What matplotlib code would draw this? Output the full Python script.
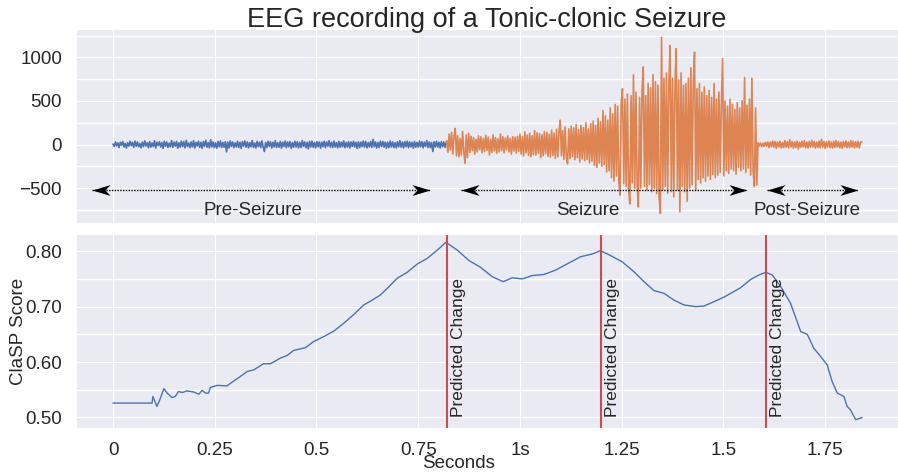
import numpy as np
import seaborn as sns
from matplotlib import pyplot as plt
from matplotlib.path import Path

sns.set_style('darkgrid')
sns.set_palette('deep')
plt.rcParams['font.family'] = ['Liberation Sans', 'DejaVu Sans']

# EEG amplitude, one value every 0.003 s
eeg_pre = [5, -22, 30, -15, 18, -35, 26, -8, 34, -28,
           14, -40, 22, -18, 38, -12, 25, -33, 40, -20,
           30, -26, 12, -38, 28, -24, 42, -16, 20, -36,
           35, -30, 18, -22, 44, -40, 26, -10, 32, -28,
           22, -45, 38, -20, 30, -34, 16, -26, 46, -32,
           28, -18, 36, -42, 20, -30, 40, -24, 34, -38,
           48, -22, 18, -36, 30, -28, 44, -40, 24, -16,
           38, -32, 26, -44, 34, -20, 50, -30, 22, -38,
           55, -28, 30, -36, 20, -42, 36, -26, 40, -34,
           24, -30, 32, -85, 28, -40, 42, -22, 30, -36,
           20, -28, 38, -34, 26, -44, 34, -18, 40, -30,
           30, -38, 22, -26, 46, -32, 18, -40, 36, -24,
           28, -34, 42, -30, -80, 24, -36, 38, -20, 32,
           -40, 26, -28, 44, -34, 20, -30, 36, -42, 28,
           -22, 40, -36, 30, -26, 34, -44, 22, -30, 38,
           -28, 32, -38, 24, -34, 46, -20, 30, -36, 26,
           -50, 36, -28, 40, -32, 22, -38, 34, -26, 30,
           -42, 28, -24, 38, -36, 30, -20, 44, -30, 26,
           -34, 40, -28, 22, -38, 36, -32, 28, -26, 42,
           -36, 24, -30, 34, -40, 30, -22, 38, -28, 26,
           -44, 32, -36, 28, -24, 40, -30, 36, -38, 22,
           -28, 34, -32, 60, -26, 30, -40, 24, -34, 38,
           -22, 36, -30, 28, -42, 26, -36, 40, -28, 30,
           -34, 22, -38, 32, -26, 44, -30, 28, -40, 34,
           -24, 38, -36, 30, -28, 26, -42, 36, -32, 24,
           -30, 40, -26, 34, -38, 28, -22, 46, -34, 30,
           -36, 24, -80, 32, -28, 38, -30, 26, -40, 34,
           -26, 30, -32]
eeg_seizure = [40, -90, 120, -60, 140, -110, 90, 185, -130, 100,
               -140, 70, -120, 150, -80, -215, 110, -150, 130, -90,
               95, -70, 80, -110, 60, -85, 100, -60, 90, -95,
               70, -80, 105, -65, 85, -120, 60, -90, 110, -75,
               80, -100, 65, -85, 120, -70, 90, -95, 75, -60,
               100, -85, 70, -110, 90, -75, 85, -100, 95, -80,
               120, -110, 90, -130, 145, -95, 110, -125, 130, -140,
               100, -115, 160, -120, 135, -100, 125, -150, 110, -130,
               150, -105, 140, -135, 120, -145, 165, -125, 130, -160,
               175, -140, 150, 280, -130, 160, -170, 200, -150, -220,
               180, -160, 210, -140, 190, -175, 230, -150, 170, -200,
               220, -165, 195, -185, 250, -170, 180, -210, 240, -190,
               270, -240, 220, -260, 300, -210, 260, -250, 390, -230,
               330, -313, 280, -300, 420, -380, 350, -420, 460, -360,
               440, -430, -580, 500, 640, -450, 520, -480, 580, -520,
               -680, 560, -440, 800, -500, 600, -470, -715, 540, -500,
               620, 890, -480, 560, -520, 700, -460, 650, -540, 800,
               -500, 720, -560, 680, -600, -790, 1230, -520, 760, -480,
               820, -560, 700, 1135, -540, 760, -600, 680, 1100, -520,
               740, -770, 820, -480, 680, -540, 700, -650, 760, -500,
               880, -460, 720, 1060, -520, 640, -400, 700, -440, 600,
               -380, 660, -420, 560, -360, 620, -400, 540, -340, 700,
               -380, 520, -350, 600, -320, 480, 985, -360, 500, -300,
               440, -330, 520, -280, 460, -300, 400, -340, 480, -260,
               420, -300, 500, -280, 770, -320, 450, -270, 520, -350,
               760, -300, -480, 420, -465, 20, -15, 18, -22, 15,
               -20, 25, -18, 30, -35, 28, -25, 40, -30, 35,
               -45, 30, -28, 38, -40, 25, -35, 45, -30, 32,
               -38, 55, -28, 36, -42, 30, -34, 40, -50, 28,
               -32, 38, -26, 44, -36, 30, -40, 34, -30, 48,
               -28, 36, -42, 30, -34, 40, -38, 60, -30, 36,
               -45, 32, -28, 42, -36, 30, -40, 38, -32, 46,
               -30, 34, -38, 28, -42, 36, -26, 40, -34, 30,
               -36, 44, -28, 38, -40, 32, -30, 36, -38, 28,
               30]
dt = 0.003
seizure_start = 0.82

clasp_time = [0, 0.096, 0.098, 0.108, 0.115, 0.125, 0.133, 0.145, 0.153, 0.161,
              0.170, 0.182, 0.198, 0.211, 0.219, 0.227, 0.235, 0.239, 0.256, 0.280,
              0.297, 0.313, 0.330, 0.346, 0.370, 0.387, 0.411, 0.428, 0.444, 0.473,
              0.493, 0.518, 0.543, 0.567, 0.592, 0.616, 0.633, 0.657, 0.674, 0.698,
              0.723, 0.748, 0.772, 0.797, 0.818, 0.846, 0.875, 0.903, 0.932, 0.959,
              0.981, 1.006, 1.030, 1.059, 1.088, 1.116, 1.149, 1.178, 1.198, 1.223,
              1.251, 1.280, 1.305, 1.329, 1.354, 1.378, 1.403, 1.432, 1.452, 1.477,
              1.501, 1.518, 1.542, 1.567, 1.587, 1.604, 1.620, 1.641, 1.665, 1.690,
              1.706, 1.722, 1.739, 1.755, 1.767, 1.780, 1.796, 1.804, 1.812, 1.825,
              1.841]
clasp_score = [0.526, 0.526, 0.538, 0.520, 0.532, 0.552, 0.544, 0.536, 0.538, 0.547,
               0.545, 0.548, 0.546, 0.542, 0.549, 0.544, 0.544, 0.554, 0.558, 0.557,
               0.566, 0.574, 0.583, 0.586, 0.597, 0.597, 0.607, 0.612, 0.621, 0.626,
               0.637, 0.646, 0.656, 0.670, 0.686, 0.703, 0.710, 0.721, 0.733, 0.751,
               0.762, 0.777, 0.787, 0.802, 0.816, 0.802, 0.783, 0.771, 0.754, 0.745,
               0.752, 0.750, 0.756, 0.758, 0.766, 0.777, 0.790, 0.795, 0.801, 0.792,
               0.781, 0.763, 0.745, 0.729, 0.724, 0.712, 0.703, 0.700, 0.701, 0.709,
               0.717, 0.724, 0.734, 0.749, 0.757, 0.762, 0.757, 0.736, 0.706, 0.655,
               0.650, 0.625, 0.610, 0.595, 0.565, 0.544, 0.538, 0.520, 0.514, 0.496,
               0.500]

change_points = [0.82, 1.198, 1.604]
segments = [('Pre-Seizure', -0.052, 0.779, 0.344),
            ('Seizure', 0.854, 1.557, 1.167),
            ('Post-Seizure', 1.606, 1.831, 1.705)]
tick_pos = [0, 0.25, 0.5, 0.75, 1.0, 1.25, 1.5, 1.75]
tick_labels = ['0', '0.25', '0.5', '0.75', '1s', '1.25', '1.5', '1.75']

# concave arrow heads, tip at the marker origin
head_r = Path([(0, 0), (-1, 0.3), (-0.72, 0), (-1, -0.3), (0, 0)],
              [Path.MOVETO, Path.LINETO, Path.LINETO, Path.LINETO, Path.CLOSEPOLY])
head_l = Path([(0, 0), (1, 0.3), (0.72, 0), (1, -0.3), (0, 0)],
              [Path.MOVETO, Path.LINETO, Path.LINETO, Path.LINETO, Path.CLOSEPOLY])

fig = plt.figure(figsize=(8.98, 4.74), dpi=100)
ax1 = fig.add_axes([0.0846, 0.5295, 0.9154, 0.4093])
ax2 = fig.add_axes([0.0846, 0.097, 0.9154, 0.4093], sharex=ax1)

t_pre = np.arange(len(eeg_pre)) * dt
t_sz = seizure_start + np.arange(len(eeg_seizure)) * dt
ax1.plot(np.append(t_pre, seizure_start), eeg_pre + [eeg_seizure[0]], color='C0', lw=1.2)
ax1.plot(t_sz, eeg_seizure, color='C1', lw=1.2)

for name, x0, x1, xc in segments:
    ax1.plot([x0, x1], [-520, -520], color='black', lw=1, ls=(0, (1, 1)))
    ax1.plot([x0], [-520], marker=head_l, ms=26, color='black', mew=0)
    ax1.plot([x1], [-520], marker=head_r, ms=26, color='black', mew=0)
    ax1.text(xc, -760, name, ha='center', va='center', fontsize=13.5, color='#262626')

ax1.set_ylim(-900, 1325)
ax1.set_yticks([-500, 0, 500, 1000])
ax1.set_yticks([-750, -250, 250, 750, 1250], minor=True)
ax1.grid(True, which='minor', color='white', lw=1)
ax1.tick_params(labelbottom=False, labelsize=13.5, pad=6.5)
fig.text(0.5423, 0.9424, 'EEG recording of a Tonic-clonic Seizure', ha='center',
         va='baseline', fontsize=19.5, color='#262626')

ax2.plot(clasp_time, clasp_score, color='C0', lw=1)
for cp in change_points:
    ax2.axvline(cp, color='C3', lw=1.5)
    ax2.text(cp + 0.01, 0.5, 'Predicted Change', rotation=90, ha='left', va='bottom',
             fontsize=12.5, color='#262626')

ax2.set_ylim(0.481, 0.831)
ax2.set_yticks([0.5, 0.6, 0.7, 0.8])
ax2.set_yticklabels(['0.50', '0.60', '0.70', '0.80'])
ax2.set_yticks([0.55, 0.65, 0.75], minor=True)
ax2.grid(True, which='minor', color='white', lw=1)
ax2.set_xticks(tick_pos)
ax2.set_xticklabels(tick_labels)
ax2.set_xlim(-0.091, 1.929)
ax2.tick_params(labelsize=13.5, pad=6.5)
ax2.set_ylabel('ClaSP Score', fontsize=13.5)
ax2.yaxis.set_label_coords(-0.06, 0.5)
ax2.set_xlabel('Seconds', fontsize=13.5)
ax2.xaxis.set_label_coords(0.465, -0.14)

fig.savefig('out.png', dpi=100)
